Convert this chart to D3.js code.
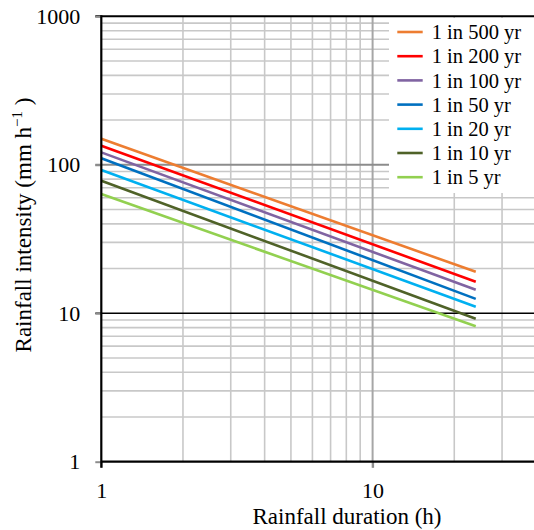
<!DOCTYPE html>
<html>
<head>
<meta charset="utf-8">
<script src="https://cdn.jsdelivr.net/npm/d3@7"></script>
<style>
  html, body { margin: 0; padding: 0; background: #fff; }
  svg { display: block; }
  svg text { font-family: "Liberation Serif", "Times New Roman", serif; }
</style>
</head>
<body>
<svg id="chart" width="534" height="530"></svg>
<script>
// ---- data ----
const durations = [1, 24];           // rainfall duration (h)
const seriesNames = ["1 in 500 yr", "1 in 200 yr", "1 in 100 yr", "1 in 50 yr", "1 in 20 yr", "1 in 10 yr", "1 in 5 yr"];
const seriesColors = ["#ED7D31", "#FF0000", "#8064A2", "#0070C0", "#00B0F0", "#4F6228", "#92D050"];
const v500 = [149.6, 19.0];
const v200 = [134.3, 16.3];
const v100 = [121.2, 14.4];
const v50  = [110.5, 12.5];
const v20  = [92.1, 11.06];
const v10  = [78.0, 9.18];
const v5   = [63.5, 8.16];
const seriesValues = [v500, v200, v100, v50, v20, v10, v5];
const xTicks = [1, 10];
const yTicks = [1, 10, 100, 1000];
const xMinorGrid = [2, 3, 4, 5, 6, 7, 8, 9, 20, 30];
const yMinorGrid = [2, 3, 4, 5, 6, 7, 8, 9, 20, 30, 40, 50, 60, 70, 80, 90, 200, 300, 400, 500, 600, 700, 800, 900];

// ---- layout ----
const FONT = "Liberation Serif, Times New Roman, serif";
const pLeft = 101.3, pTop = 16.3, pBottom = 461.7, decadeX = 271.3;
const x = d3.scaleLog().domain([1, 40]).range([pLeft, pLeft + Math.log10(40) * decadeX]);
const y = d3.scaleLog().domain([1, 1000]).range([pBottom, pTop]);

const svg = d3.select("#chart");
const W = 534;

// minor grid
const grid = svg.append("g");
grid.selectAll("line.vmin").data(xMinorGrid).join("line")
  .attr("x1", d => x(d)).attr("x2", d => x(d)).attr("y1", pTop).attr("y2", pBottom)
  .attr("stroke", "#c8c8c8").attr("stroke-width", 1.6);
grid.selectAll("line.hmin").data(yMinorGrid).join("line")
  .attr("x1", pLeft).attr("x2", W).attr("y1", d => y(d)).attr("y2", d => y(d))
  .attr("stroke", "#c8c8c8").attr("stroke-width", 1.6);
// major grid
grid.append("line").attr("x1", x(10)).attr("x2", x(10)).attr("y1", pTop).attr("y2", pBottom + 6)
  .attr("stroke", "#a6a6a6").attr("stroke-width", 2);
grid.append("line").attr("x1", pLeft - 6).attr("x2", W).attr("y1", y(100)).attr("y2", y(100))
  .attr("stroke", "#8c8c8c").attr("stroke-width", 2);
grid.append("line").attr("x1", pLeft - 6).attr("x2", W).attr("y1", y(10)).attr("y2", y(10))
  .attr("stroke", "#000").attr("stroke-width", 1.4);
grid.append("line").attr("x1", pLeft - 6).attr("x2", W).attr("y1", y(1000)).attr("y2", y(1000))
  .attr("stroke", "#000").attr("stroke-width", 2);

// legend background (covers gridlines)
svg.append("rect").attr("x", 389).attr("y", 18).attr("width", W - 389).attr("height", 175).attr("fill", "#fff");

// series lines
const line = d3.line().x((d, i) => x(durations[i])).y(d => y(d));
svg.append("g").selectAll("path").data(seriesValues).join("path")
  .attr("d", d => line(d))
  .attr("fill", "none")
  .attr("stroke", (d, i) => seriesColors[i])
  .attr("stroke-width", 2.6);

// axes
const yAxis = d3.axisLeft(y).tickValues(yTicks).tickFormat(d3.format("d")).tickSize(6).tickPadding(15);
const gy = svg.append("g").attr("transform", `translate(${pLeft},0)`).call(yAxis);
const xAxis = d3.axisBottom(x).tickValues(xTicks).tickFormat(d3.format("d")).tickSize(6).tickPadding(14);
const gx = svg.append("g").attr("transform", `translate(0,${pBottom})`).call(xAxis);
[gx, gy].forEach(g => {
  g.attr("font-family", FONT);
  g.select(".domain").remove();
  g.selectAll(".tick line").attr("stroke", "#8c8c8c").attr("stroke-width", 2);
  g.selectAll(".tick text").attr("font-size", 22).attr("fill", "#000").attr("font-family", FONT);
});
gx.selectAll(".tick text").attr("dy", "0.75em");
// axis lines
svg.append("line").attr("x1", pLeft).attr("x2", W).attr("y1", pBottom).attr("y2", pBottom)
  .attr("stroke", "#000").attr("stroke-width", 2.2);
svg.append("line").attr("x1", pLeft).attr("x2", pLeft).attr("y1", pTop - 1).attr("y2", pBottom + 6)
  .attr("stroke", "#000").attr("stroke-width", 2.2);

// axis titles
svg.append("text").attr("x", 347).attr("y", 524).attr("text-anchor", "middle")
  .attr("font-family", FONT).attr("font-size", 23).text("Rainfall duration (h)");
const yt = svg.append("text").attr("transform", "translate(31,225) rotate(-90)")
  .attr("text-anchor", "middle").attr("font-family", FONT).attr("font-size", 23);
yt.append("tspan").text("Rainfall intensity (mm h");
yt.append("tspan").attr("font-size", 15).attr("dy", -9).text("−1");
yt.append("tspan").attr("dy", 9).text(" )");

// legend
const leg = svg.append("g").attr("font-family", FONT);
const legY0 = 32, legStep = 24.2;
seriesNames.forEach((name, i) => {
  const yy = legY0 + i * legStep;
  leg.append("line").attr("x1", 397.3).attr("x2", 422.7).attr("y1", yy).attr("y2", yy)
    .attr("stroke", seriesColors[i]).attr("stroke-width", 2.6);
  leg.append("text").attr("x", 431.7).attr("y", yy).attr("dy", "0.35em")
    .attr("font-family", FONT).attr("font-size", 20.5).text(name);
});
</script>
</body>
</html>
